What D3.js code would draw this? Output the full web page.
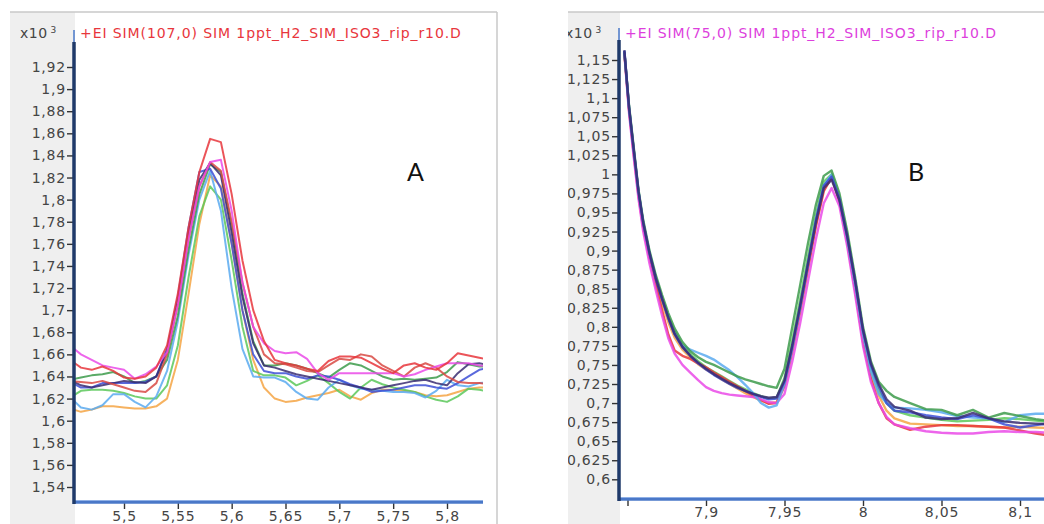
<!DOCTYPE html>
<html><head><meta charset="utf-8">
<script src="https://cdn.jsdelivr.net/npm/d3@7"></script>
<style>html,body{margin:0;padding:0;background:#fff;overflow:hidden}</style>
</head><body>
<svg id="c" width="1044" height="524"></svg>
<script>
// ---------- DATA ----------
const timesA = [5.45,5.46,5.47,5.48,5.49,5.50,5.51,5.52,5.53,5.54,5.55,5.56,5.57,5.58,5.59,5.60,5.61,5.62,5.63,5.64,5.65,5.66,5.67,5.68,5.69,5.70,5.71,5.72,5.73,5.74,5.75,5.76,5.77,5.78,5.79,5.80,5.81,5.82,5.83,5.84];
const redA = [1.655,1.648,1.646,1.649,1.645,1.639,1.638,1.640,1.648,1.668,1.715,1.775,1.825,1.855,1.852,1.805,1.745,1.700,1.672,1.655,1.652,1.650,1.647,1.645,1.654,1.658,1.658,1.657,1.652,1.647,1.643,1.650,1.652,1.648,1.646,1.652,1.661,1.659,1.657,1.655];
const red2A = [1.636,1.635,1.634,1.636,1.633,1.630,1.627,1.626,1.634,1.660,1.705,1.765,1.812,1.834,1.826,1.780,1.725,1.685,1.660,1.652,1.651,1.648,1.645,1.644,1.650,1.656,1.655,1.660,1.658,1.650,1.645,1.640,1.648,1.652,1.648,1.640,1.635,1.634,1.634,1.633];
const magentaA = [1.668,1.660,1.655,1.650,1.648,1.646,1.638,1.642,1.649,1.662,1.705,1.765,1.812,1.834,1.836,1.790,1.725,1.685,1.670,1.663,1.661,1.662,1.656,1.643,1.637,1.643,1.643,1.643,1.643,1.643,1.643,1.640,1.642,1.646,1.649,1.652,1.652,1.652,1.650,1.649];
const darkGreenA = [1.637,1.639,1.641,1.642,1.644,1.640,1.634,1.636,1.640,1.655,1.695,1.755,1.805,1.832,1.825,1.775,1.715,1.672,1.650,1.650,1.652,1.650,1.647,1.643,1.639,1.646,1.652,1.650,1.645,1.640,1.637,1.638,1.637,1.638,1.639,1.644,1.653,1.651,1.649,1.649];
const lightGreenA = [1.621,1.627,1.628,1.628,1.627,1.625,1.622,1.620,1.620,1.632,1.668,1.730,1.785,1.812,1.800,1.745,1.685,1.645,1.641,1.641,1.639,1.632,1.636,1.641,1.634,1.626,1.620,1.630,1.637,1.633,1.630,1.628,1.626,1.622,1.619,1.617,1.622,1.629,1.628,1.626];
const orangeA = [1.611,1.608,1.610,1.613,1.613,1.612,1.611,1.611,1.613,1.620,1.655,1.715,1.778,1.822,1.812,1.760,1.700,1.655,1.630,1.620,1.617,1.618,1.621,1.623,1.625,1.628,1.622,1.619,1.625,1.628,1.628,1.627,1.626,1.623,1.622,1.623,1.626,1.629,1.630,1.630];
const lightBlueA = [1.621,1.612,1.610,1.614,1.624,1.624,1.617,1.612,1.622,1.645,1.690,1.750,1.800,1.826,1.790,1.720,1.665,1.640,1.639,1.639,1.635,1.626,1.620,1.619,1.630,1.637,1.632,1.629,1.628,1.627,1.626,1.626,1.625,1.621,1.627,1.637,1.632,1.631,1.634,1.635];
const blueA = [1.635,1.630,1.630,1.634,1.634,1.634,1.634,1.635,1.640,1.665,1.712,1.775,1.825,1.828,1.810,1.760,1.700,1.660,1.645,1.643,1.643,1.640,1.638,1.641,1.640,1.637,1.633,1.630,1.626,1.627,1.628,1.630,1.632,1.632,1.630,1.629,1.634,1.640,1.646,1.648];
const navyA = [1.637,1.632,1.630,1.632,1.634,1.636,1.635,1.634,1.640,1.663,1.708,1.770,1.818,1.833,1.822,1.770,1.712,1.670,1.650,1.648,1.645,1.642,1.640,1.638,1.636,1.634,1.632,1.630,1.628,1.630,1.632,1.634,1.636,1.637,1.634,1.632,1.643,1.651,1.652,1.650];

const timesB = [7.848,7.851,7.854,7.857,7.860,7.864,7.868,7.872,7.876,7.880,7.885,7.890,7.895,7.900,7.905,7.910,7.915,7.920,7.925,7.930,7.935,7.940,7.945,7.950,7.955,7.960,7.965,7.970,7.975,7.980,7.985,7.990,7.995,8.000,8.005,8.010,8.015,8.020,8.030,8.040,8.050,8.060,8.070,8.080,8.090,8.100,8.110,8.120];
const darkGreenB = [1.160,1.090,1.035,0.980,0.940,0.900,0.868,0.842,0.818,0.798,0.780,0.768,0.760,0.754,0.750,0.745,0.740,0.735,0.731,0.728,0.725,0.722,0.720,0.745,0.800,0.855,0.910,0.960,0.998,1.005,0.975,0.925,0.865,0.800,0.755,0.728,0.716,0.708,0.700,0.692,0.691,0.684,0.691,0.681,0.687,0.683,0.679,0.676];
const lightBlueB = [1.162,1.088,1.032,0.978,0.938,0.898,0.866,0.838,0.812,0.792,0.775,0.770,0.766,0.762,0.757,0.750,0.743,0.734,0.724,0.713,0.700,0.694,0.697,0.725,0.772,0.825,0.882,0.940,0.985,1.000,0.968,0.915,0.855,0.790,0.742,0.712,0.700,0.694,0.693,0.691,0.688,0.683,0.681,0.680,0.675,0.684,0.686,0.686];
const magentaB = [1.158,1.080,1.022,0.968,0.925,0.883,0.848,0.815,0.785,0.765,0.750,0.740,0.730,0.721,0.716,0.713,0.711,0.710,0.709,0.708,0.705,0.701,0.700,0.712,0.755,0.805,0.860,0.915,0.962,0.982,0.958,0.905,0.842,0.775,0.728,0.700,0.682,0.672,0.667,0.663,0.661,0.660,0.660,0.662,0.663,0.662,0.662,0.661];
const redB = [1.160,1.084,1.026,0.972,0.930,0.890,0.855,0.822,0.790,0.769,0.762,0.758,0.752,0.747,0.740,0.734,0.728,0.722,0.716,0.710,0.704,0.699,0.700,0.722,0.768,0.820,0.876,0.932,0.978,0.996,0.964,0.910,0.848,0.780,0.732,0.700,0.680,0.672,0.665,0.669,0.671,0.671,0.670,0.669,0.668,0.664,0.660,0.657];
const orangeB = [1.160,1.085,1.028,0.974,0.933,0.892,0.860,0.832,0.806,0.786,0.770,0.760,0.751,0.744,0.738,0.731,0.725,0.719,0.713,0.708,0.703,0.700,0.701,0.725,0.772,0.824,0.879,0.934,0.980,0.998,0.966,0.913,0.852,0.785,0.738,0.710,0.690,0.680,0.673,0.672,0.671,0.670,0.670,0.669,0.668,0.669,0.668,0.667];
const lightGreenB = [1.160,1.086,1.030,0.976,0.936,0.896,0.864,0.838,0.814,0.794,0.776,0.764,0.755,0.747,0.741,0.735,0.729,0.723,0.718,0.713,0.709,0.706,0.707,0.733,0.782,0.836,0.892,0.946,0.990,1.000,0.970,0.920,0.860,0.793,0.746,0.716,0.700,0.690,0.684,0.681,0.678,0.676,0.677,0.678,0.680,0.679,0.677,0.675];
const blueB = [1.162,1.087,1.031,0.977,0.936,0.896,0.863,0.836,0.811,0.790,0.773,0.762,0.752,0.744,0.737,0.731,0.725,0.720,0.716,0.712,0.708,0.705,0.706,0.728,0.775,0.828,0.884,0.940,0.985,0.997,0.968,0.918,0.860,0.795,0.750,0.722,0.700,0.690,0.688,0.684,0.681,0.679,0.684,0.680,0.672,0.668,0.671,0.674];
const navyB = [1.163,1.088,1.032,0.978,0.937,0.897,0.864,0.837,0.812,0.791,0.774,0.762,0.753,0.745,0.738,0.732,0.726,0.721,0.716,0.712,0.709,0.707,0.708,0.730,0.776,0.828,0.883,0.937,0.982,0.993,0.966,0.918,0.860,0.796,0.752,0.725,0.705,0.695,0.690,0.681,0.679,0.680,0.687,0.680,0.676,0.674,0.673,0.672];

const yTicksA = [1.54,1.56,1.58,1.60,1.62,1.64,1.66,1.68,1.70,1.72,1.74,1.76,1.78,1.80,1.82,1.84,1.86,1.88,1.90,1.92];
const xTicksA = [5.5,5.55,5.6,5.65,5.7,5.75,5.8];
const yTicksB = [0.6,0.625,0.65,0.675,0.7,0.725,0.75,0.775,0.8,0.825,0.85,0.875,0.9,0.925,0.95,0.975,1,1.025,1.05,1.075,1.1,1.125,1.15];
const xTicksB = [7.85,7.9,7.95,8,8.05,8.1];
const titleA = "+EI SIM(107,0) SIM 1ppt_H2_SIM_ISO3_rip_r10.D";
const titleB = "+EI SIM(75,0) SIM 1ppt_H2_SIM_ISO3_rip_r10.D";

// ---------- DRAW ----------
const svg = d3.select("#c");
const FONT = "DejaVu Sans, Verdana, sans-serif";
const fmt = v => String(+v.toFixed(3)).replace(".", ",");
const C = {red:"#e8363c", red2:"#d84a44", magenta:"#ea4ae8", darkGreen:"#3d9b4b", lightGreen:"#5cc85a",
           orange:"#f5a444", lightBlue:"#5aaaf0", blue:"#3d4fd6", navy:"#3a2d72"};

function panel(cfg){
  const g = svg.append("g");
  const cid = "clip" + cfg.id, lid = "lab" + cfg.id;
  const defs = svg.append("defs");
  defs.append("clipPath").attr("id", cid).append("rect")
    .attr("x", cfg.plot[0]).attr("y", cfg.plot[1]).attr("width", cfg.plot[2]-cfg.plot[0]).attr("height", cfg.plot[3]-cfg.plot[1]);
  defs.append("clipPath").attr("id", lid).append("rect")
    .attr("x", cfg.left).attr("y", 0).attr("width", cfg.right - cfg.left).attr("height", 524);

  // frame
  g.append("rect").attr("x", cfg.left).attr("y", cfg.top).attr("width", cfg.plot[0]-cfg.left).attr("height", 524-cfg.top).attr("fill", "#efefef");
  g.append("line").attr("x1", cfg.left).attr("x2", cfg.right).attr("y1", cfg.top).attr("y2", cfg.top).attr("stroke", "#c8c8c8").attr("stroke-width", 1.5);
  if (cfg.rightBorder) g.append("line").attr("x1", cfg.right).attr("x2", cfg.right).attr("y1", cfg.top).attr("y2", 524).attr("stroke", "#c8c8c8").attr("stroke-width", 1.5);

  const x = cfg.x, y = cfg.y;
  const lab = g.append("g").attr("clip-path", `url(#${lid})`);

  // y axis
  const ya = lab.append("g").attr("transform", `translate(${cfg.plot[0]-2},0)`)
    .call(d3.axisLeft(y).tickValues(cfg.yTicks).tickFormat(fmt).tickSize(6).tickPadding(1));
  ya.select(".domain").remove();
  ya.selectAll("text").attr("font-family", FONT).attr("font-size", 14).attr("letter-spacing", 0.8).attr("fill", "#454545");
  ya.selectAll("line").attr("stroke", "#333").attr("stroke-width", 1.4);

  // x axis
  const xa = lab.append("g").attr("transform", `translate(0,${cfg.plot[3]+2})`)
    .call(d3.axisBottom(x).tickValues(cfg.xTicks).tickFormat(v => cfg.xLabels.includes(v) ? fmt(v) : "").tickSize(6).tickPadding(cfg.xPad));
  xa.select(".domain").remove();
  xa.selectAll("text").attr("font-family", FONT).attr("font-size", 14).attr("letter-spacing", 0.8).attr("fill", "#454545");
  xa.selectAll("line").attr("stroke", "#333").attr("stroke-width", 1.4);

  // lines
  const lg = g.append("g").attr("clip-path", `url(#${cid})`);
  cfg.series.forEach(s => {
    const line = d3.line().x((d,i) => x(cfg.times[i])).y(d => y(d));
    lg.append("path").attr("d", line(s.values)).attr("fill", "none")
      .attr("stroke", s.color).attr("stroke-width", cfg.sw).attr("stroke-opacity", 0.85).attr("stroke-linejoin", "round");
  });

  // axis lines
  g.append("line").attr("x1", cfg.plot[0]).attr("x2", cfg.plot[2]).attr("y1", cfg.plot[3]+1).attr("y2", cfg.plot[3]+1)
    .attr("stroke", "#4a78c8").attr("stroke-width", 3.5);
  g.append("line").attr("x1", cfg.plot[0]).attr("x2", cfg.plot[2]).attr("y1", cfg.plot[3]-0.5).attr("y2", cfg.plot[3]-0.5)
    .attr("stroke", "#8fb0e6").attr("stroke-width", 1);
  g.append("line").attr("x1", cfg.plot[0]-1).attr("x2", cfg.plot[0]-1).attr("y1", cfg.axisTop).attr("y2", cfg.plot[3]+3)
    .attr("stroke", "#1f3a6a").attr("stroke-width", 3.5);
  g.append("line").attr("x1", cfg.plot[0]-1).attr("x2", cfg.plot[0]-1).attr("y1", cfg.axisTop-12).attr("y2", cfg.axisTop)
    .attr("stroke", "#4a78c8").attr("stroke-width", 1.5);

  // multiplier label
  const m = lab.append("text").attr("x", cfg.multX).attr("y", 38).attr("font-family", FONT).attr("font-size", 14).attr("letter-spacing", 0.5).attr("fill", "#454545");
  m.append("tspan").text("x10");
  m.append("tspan").attr("dx", 3).attr("dy", -5).attr("font-size", 9).text("3");

  // title
  g.append("text").attr("x", cfg.plot[0]+5).attr("y", 38).attr("font-family", FONT)
    .attr("font-size", 14).attr("letter-spacing", 0.9).attr("fill", cfg.titleColor).text(cfg.title);

  // panel letter
  g.append("text").attr("x", cfg.letterX).attr("y", 181).attr("font-family", "Lato, Open Sans, sans-serif")
    .attr("font-size", 25).attr("fill", "#111").text(cfg.letter);
}

panel({
  id: "A", left: 10, right: 497, top: 12, rightBorder: true, axisTop: 42,
  plot: [75, 28, 483, 501], xPad: 2,
  x: d3.scaleLinear().domain([5.5, 5.8]).range([124, 447]),
  y: d3.scaleLinear().domain([1.54, 1.92]).range([487, 67]),
  yTicks: yTicksA, xTicks: xTicksA, xLabels: xTicksA,
  times: timesA, sw: 2,
  series: [
    {values: orangeA, color: C.orange},
    {values: lightGreenA, color: C.lightGreen},
    {values: lightBlueA, color: C.lightBlue},
    {values: darkGreenA, color: C.darkGreen},
    {values: blueA, color: C.blue},
    {values: navyA, color: C.navy},
    {values: red2A, color: C.red2},
    {values: magentaA, color: C.magenta},
    {values: redA, color: C.red}
  ],
  multX: 20, title: titleA, titleColor: "#e8363c", letter: "A", letterX: 407
});

panel({
  id: "B", left: 568, right: 1044, top: 12, rightBorder: false, axisTop: 40,
  plot: [620, 28, 1044, 498], xPad: 1,
  x: d3.scaleLinear().domain([7.9, 8.1]).range([706, 1020]),
  y: d3.scaleLinear().domain([0.6, 1.15]).range([479.3, 60]),
  yTicks: yTicksB, xTicks: xTicksB, xLabels: xTicksB.filter(v => v > 7.86),
  times: timesB, sw: 2.4,
  series: [
    {values: orangeB, color: C.orange},
    {values: lightGreenB, color: C.lightGreen},
    {values: redB, color: C.red},
    {values: magentaB, color: C.magenta},
    {values: lightBlueB, color: C.lightBlue},
    {values: darkGreenB, color: C.darkGreen},
    {values: blueB, color: C.blue},
    {values: navyB, color: C.navy}
  ],
  multX: 565, title: titleB, titleColor: "#dd3fdd", letter: "B", letterX: 908
});
</script>
</body></html>
